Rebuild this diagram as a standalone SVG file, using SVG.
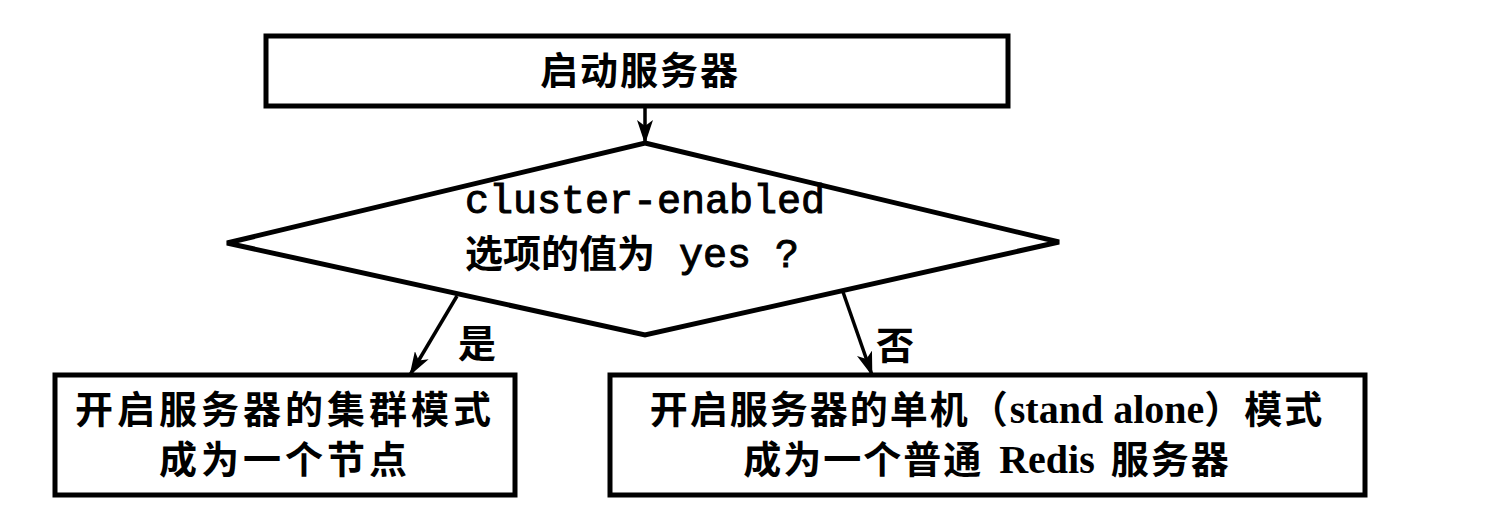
<svg xmlns="http://www.w3.org/2000/svg" width="1500" height="532" viewBox="0 0 1500 532">
<style>
.box{fill:#fff;stroke:#000;stroke-width:5}
.dia{fill:#fff;stroke:#000;stroke-width:5;stroke-linejoin:miter}
.cjk{font-family:"Noto Sans CJK SC","Liberation Sans",sans-serif;font-weight:bold;font-size:38px;fill:#000}
.mono{font-family:"Liberation Mono",monospace;font-weight:normal;font-size:40px;stroke:#000;stroke-width:1}
.serif{font-family:"Liberation Serif",serif;font-weight:bold;font-size:40px}
.conn{stroke:#000;stroke-width:3.5;fill:none}
</style>
<defs>
<marker id="ah" viewBox="0 0 24 16" refX="23" refY="8" markerWidth="24" markerHeight="16" markerUnits="userSpaceOnUse" orient="auto">
<path d="M0,0 L24,8 L0,16 L6,8 Z" fill="#000"/>
</marker>
</defs>
<rect width="1500" height="532" fill="#fff"/>
<g id="connectors">
<line class="conn" x1="645" y1="107" x2="645" y2="143" marker-end="url(#ah)"/>
<line class="conn" x1="457" y1="296" x2="410" y2="375" marker-end="url(#ah)"/>
<line class="conn" x1="843" y1="292" x2="872" y2="375" marker-end="url(#ah)"/>
<text class="cjk" x="477" y="357" text-anchor="middle">是</text>
<text class="cjk" x="895" y="359" text-anchor="middle">否</text>
</g>
<g id="start">
<rect class="box" x="266" y="36" width="742" height="70"/>
<text class="cjk" x="640" y="84" text-anchor="middle" font-size="40" letter-spacing="2">启动服务器</text>
</g>
<g id="decision">
<polygon class="dia" points="645,143 1059,242 645,335 227,243"/>
<text class="mono" x="465" y="213">cluster-enabled</text>
<text x="465" y="267"><tspan class="cjk">选项的值为</tspan><tspan class="mono"> yes ?</tspan></text>
</g>
<g id="cluster">
<rect class="box" x="55" y="375" width="460" height="120"/>
<text class="cjk" x="285" y="423" text-anchor="middle" letter-spacing="4">开启服务器的集群模式</text>
<text class="cjk" x="285" y="473" text-anchor="middle" letter-spacing="4">成为一个节点</text>
</g>
<g id="standalone">
<rect class="box" x="610" y="375" width="755" height="120"/>
<text class="cjk" x="987" y="423" text-anchor="middle" letter-spacing="2">开启服务器的单机（<tspan class="serif" letter-spacing="0">stand alone</tspan>）模式</text>
<text class="cjk" x="987" y="473" text-anchor="middle" letter-spacing="2">成为一个普通<tspan class="serif" letter-spacing="0" dx="16">Redis</tspan><tspan dx="16">服务器</tspan></text>
</g>
</svg>
